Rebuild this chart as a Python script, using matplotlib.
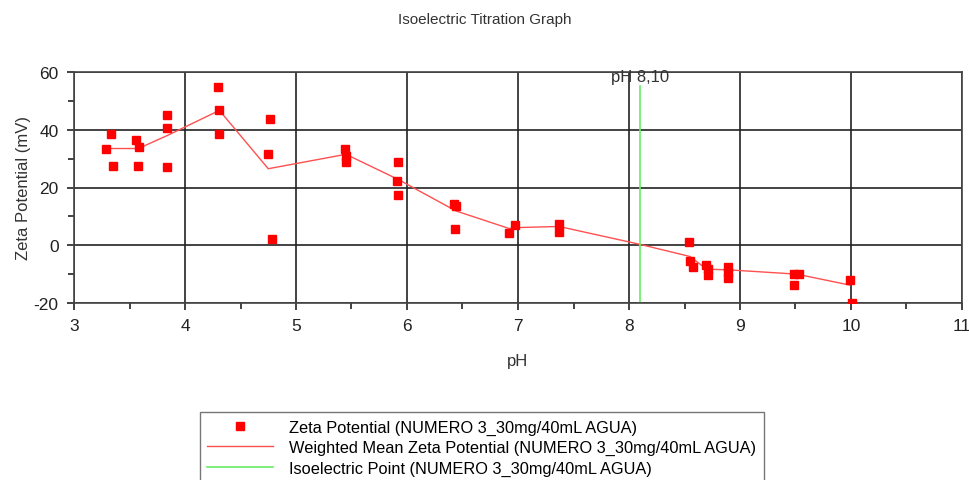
import matplotlib
matplotlib.use('Agg')
import matplotlib.pyplot as plt
from matplotlib.ticker import MultipleLocator

plt.rcParams['font.family'] = ['Liberation Sans', 'DejaVu Sans']
plt.rcParams['axes.unicode_minus'] = False

# measured zeta potential points
ph = [3.29, 3.33, 3.35, 3.56, 3.59, 3.58, 3.84, 3.84, 3.84,
      4.30, 4.31, 4.31, 4.77, 4.75, 4.78, 5.44, 5.45, 5.45,
      5.92, 5.91, 5.92, 6.42, 6.44, 6.43, 6.92, 6.97, 7.37, 7.37,
      8.54, 8.55, 8.58, 8.69, 8.71, 8.71, 8.89, 8.89, 8.89,
      9.49, 9.53, 9.49, 9.99, 10.01]
zeta = [33.2, 38.5, 27.6, 36.4, 34.1, 27.6, 45.1, 40.5, 27.1,
        54.8, 46.7, 38.5, 43.8, 31.5, 2.1, 33.2, 30.9, 28.8,
        28.8, 22.2, 17.3, 14.4, 13.6, 5.5, 4.4, 7.0, 7.3, 4.7,
        1.1, -5.4, -7.4, -6.8, -8.3, -10.3, -7.7, -9.4, -11.2,
        -10.0, -10.0, -13.8, -12.1, -20.0]

# weighted mean curve
mean_ph = [3.33, 3.58, 3.84, 4.31, 4.75, 5.45, 5.92, 6.44, 6.92, 6.97,
           7.37, 8.10, 8.55, 8.70, 8.89, 9.51, 9.99]
mean_zeta = [33.5, 33.5, 38.0, 46.7, 26.5, 31.5, 22.8, 11.9, 5.8, 6.1,
             6.5, 0.3, -3.9, -8.3, -8.5, -10.0, -13.8]

iep = 8.10
label = 'NUMERO 3_30mg/40mL AGUA'

fig = plt.figure(figsize=(9.7, 4.81), dpi=100)
ax = fig.add_axes([74 / 970, 1 - 304 / 481, 888 / 970, 231 / 481])

ax.plot(ph, zeta, 's', color='#ff0000', markersize=6, linestyle='none',
        label='Zeta Potential (%s)' % label, zorder=3)
ax.plot(mean_ph, mean_zeta, '-', color='#ff5050', linewidth=1,
        label='Weighted Mean Zeta Potential (%s)' % label, zorder=2)
ax.plot([iep, iep], [-20, 55], '-', color='#66ee66', linewidth=1.2,
        label='Isoelectric Point (%s)' % label, zorder=2)
ax.text(iep, 58.5, 'pH 8,10', ha='center', va='center', fontsize=12,
        color='#333333')

ax.set_xlim(3, 11)
ax.set_ylim(-20, 60)
ax.xaxis.set_major_locator(MultipleLocator(1))
ax.xaxis.set_minor_locator(MultipleLocator(0.5))
ax.yaxis.set_major_locator(MultipleLocator(20))
ax.yaxis.set_minor_locator(MultipleLocator(10))
ax.grid(True, which='major', color='#222222', linewidth=1.2)
ax.set_axisbelow(True)
ax.tick_params(which='major', length=5, width=1.2, labelsize=12.5,
               colors='#222222', pad=6)
ax.tick_params(which='minor', length=4, width=1.2, colors='#222222')
for s in ax.spines.values():
    s.set_color('#444444')
    s.set_linewidth(1.2)

ax.set_xlabel('pH', fontsize=12, color='#333333', labelpad=14)
ax.set_ylabel('Zeta Potential (mV)', fontsize=12, color='#333333', labelpad=2)
fig.text(0.5, 1 - 20 / 481, 'Isoelectric Titration Graph', ha='center',
         va='center', fontsize=11, color='#333333')

fig.legend(loc='upper left', bbox_to_anchor=(200 / 970, 1 - 413 / 481),
           fontsize=11.8, frameon=True, fancybox=False, edgecolor='#555555',
           borderpad=0.45, labelspacing=0.33, handlelength=4.0,
           handletextpad=1.0, borderaxespad=0, numpoints=1)

fig.savefig('out.png', dpi=100)
